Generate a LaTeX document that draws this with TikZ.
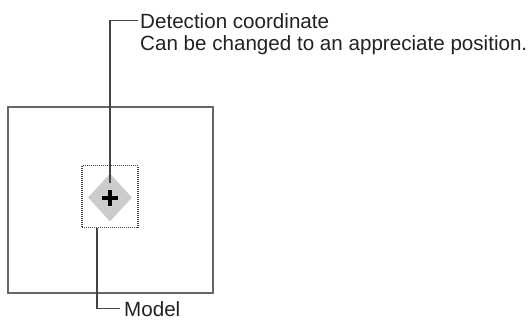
\documentclass[tikz,border=0pt]{standalone}
\usepackage{fontspec}
\setmainfont{Liberation Sans}
\usetikzlibrary{shapes.geometric}
\definecolor{txt}{HTML}{222222}
\definecolor{ln}{HTML}{444444}
\definecolor{frame}{HTML}{666666}
\definecolor{dia}{HTML}{CCCCCC}
\begin{document}
\begin{tikzpicture}[x=1pt,y=-1pt,
  lbl/.style={inner sep=0pt,text=txt,font=\fontsize{20.6}{20}\selectfont},
  conn/.style={draw=ln,line width=1.5pt},
]
\useasboundingbox (0,0) rectangle (529,322);
% outer frame
\node[draw=frame,line width=1.8pt,minimum width=205pt,minimum height=186pt,inner sep=0pt] (frame) at (110.5,200) {};
% dotted selection box
\node[draw=ln,line width=1.1pt,dash pattern=on 1pt off 1pt,minimum width=56pt,minimum height=62pt,inner sep=0pt] (sel) at (110,196.5) {};
% diamond
\node[diamond,fill=dia,minimum width=44pt,minimum height=48pt,inner sep=0pt] (dia) at (110,197.5) {};
% plus
\coordinate (pc) at (110,198);
\draw[line width=4.5pt,black] ([xshift=-8pt]pc) -- ([xshift=8pt]pc);
\draw[line width=4.5pt,black] ([yshift=-8pt]pc) -- ([yshift=8pt]pc);
% labels
\node[lbl,anchor=base west] (det1) at (140,28) {Detection coordinate};
\node[lbl,anchor=base west] (det2) at (140,50) {Can be changed to an appreciate position.};
\node[lbl,anchor=base west] (model) at (124,316) {Model};
% connectors
\coordinate (dtop) at (110,183);
\draw[conn] (dtop) |- ([xshift=-2.5pt]det1.west);
\coordinate (mtop) at (sel.south -| 97,0);
\draw[conn] (mtop) |- ([xshift=-4pt]model.west);
\end{tikzpicture}
\end{document}
